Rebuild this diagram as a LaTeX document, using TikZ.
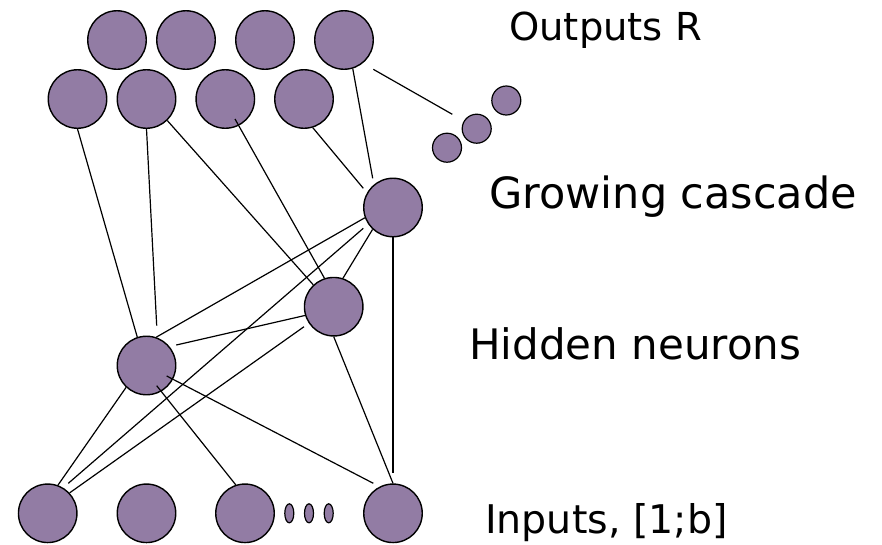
\documentclass[tikz,border=0pt]{standalone}
\usepackage{fontspec}
\setmainfont{DejaVu Sans}
\usetikzlibrary{shapes.geometric}
\definecolor{nfill}{RGB}{146,124,164}
\begin{document}
\begin{tikzpicture}[x=1pt,y=-1pt,
  neuron/.style={circle,draw=black,line width=1.4pt,fill=nfill,minimum size=58.5pt,inner sep=0pt},
  smalln/.style={circle,draw=black,line width=1.2pt,fill=nfill,minimum size=29pt,inner sep=0pt},
  dotn/.style={ellipse,draw=black,line width=1.2pt,fill=nfill,minimum width=9pt,minimum height=19pt,inner sep=0pt},
  conn/.style={draw=black,line width=1.2pt},
  lbl/.style={anchor=base west,inner sep=0pt,text=black}]
\useasboundingbox (0,0) rectangle (882,544);
% output layer
\node[neuron] (C1) at (117,40) {};
\node[neuron] (C2) at (186,40) {};
\node[neuron] (C3) at (265,40) {};
\node[neuron] (C4) at (344,40) {};
\node[neuron] (D1) at (77.5,99) {};
\node[neuron] (D2) at (146.5,99) {};
\node[neuron] (D3) at (225.3,99) {};
\node[neuron] (D4) at (304,99) {};
% small outputs
\node[smalln] (S1) at (447,147.7) {};
\node[smalln] (S2) at (476.7,128.7) {};
\node[smalln] (S3) at (506.3,100.5) {};
% cascade and hidden
\node[neuron] (G) at (393,207.5) {};
\node[neuron] (H2) at (333.7,306.7) {};
\node[neuron] (H1) at (146.5,365.5) {};
% inputs
\node[neuron] (I1) at (47.7,513.3) {};
\node[neuron] (I2) at (146.5,513.3) {};
\node[neuron] (I3) at (245,513.3) {};
\node[neuron] (I4) at (393,513.3) {};
\node[dotn] (E1) at (289.3,513.3) {};
\node[dotn] (E2) at (309,513.3) {};
\node[dotn] (E3) at (328.7,513.3) {};
% free ends
\coordinate (d2end) at (156.7,325.7);
\coordinate (d3in) at (235,119);
\coordinate (d4end) at (363.3,188.3);
\coordinate (c4end) at (372.7,178.3);
\coordinate (c4out) at (373.3,69.3);
\coordinate (sEnd) at (452.3,114.3);
\coordinate (gI1a) at (363.3,228.3);
\coordinate (gI1b) at (68.3,483.3);
\coordinate (gI4) at (393,473.3);
\coordinate (h2h1) at (176.3,345);
\coordinate (h2i1) at (304,326.7);
\coordinate (h1in3) at (156.7,385.7);
\coordinate (h1in4) at (166.7,376);
\coordinate (i4end) at (373.3,483.3);
% connectors
\draw[conn] (D1.-90) -- (H1.108);
\draw[conn] (D2.-90) -- (d2end);
\draw[conn] (D2.-46) -- (H2.133);
\draw[conn] (d3in) -- (H2.108);
\draw[conn] (D4.-73) -- (d4end);
\draw[conn] (C4.-73) -- (c4end);
\draw[conn] (c4out) -- (sEnd);
\draw[conn] (G.-160) -- (H1.71);
\draw[conn] (gI1a) -- (gI1b);
\draw[conn] (G.-133) -- (H2.72);
\draw[conn] (G.-90) -- (gI4);
\draw[conn] (H2.-163) -- (h2h1);
\draw[conn] (h2i1) -- (I1.43);
\draw[conn] (H2.-90) -- (I4.90);
\draw[conn] (H1.-133) -- (I1.70);
\draw[conn] (h1in3) -- (I3.108);
\draw[conn] (h1in4) -- (i4end);
% labels
\node[lbl,font=\fontsize{38.5}{46}\selectfont] (tOut) at (509,40) {Outputs R};
\node[lbl,font=\fontsize{43}{50}\selectfont] (tGrow) at (489,208.5) {Growing cascade};
\node[lbl,font=\fontsize{42}{50}\selectfont] (tHid) at (469,359) {Hidden neurons};
\node[lbl,font=\fontsize{39.5}{48}\selectfont] (tIn) at (485,533) {Inputs, [1;b]};
\end{tikzpicture}
\end{document}
